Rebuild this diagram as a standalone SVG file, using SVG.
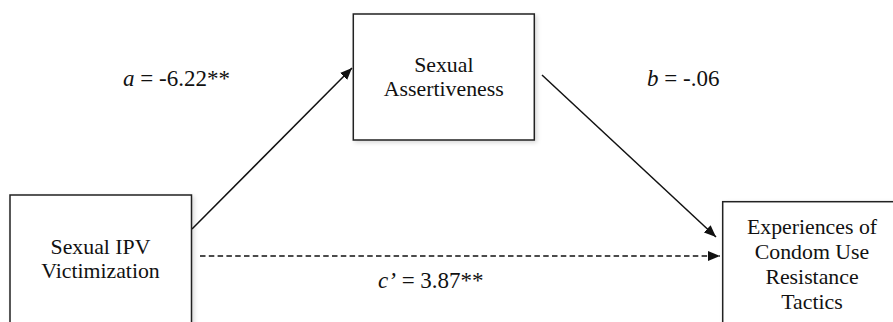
<svg xmlns="http://www.w3.org/2000/svg" width="893" height="322" viewBox="0 0 893 322">
  <style>
    .box { fill: #ffffff; stroke: #222222; stroke-width: 1.5; }
    .t { font-family: "Liberation Serif", "Times New Roman", serif; font-size: 21.8px; fill: #111111; text-anchor: middle; }
    .lbl { font-family: "Liberation Serif", "Times New Roman", serif; font-size: 23px; fill: #111111; }
    .it { font-style: italic; }
    .conn { stroke: #111111; stroke-width: 1.5; fill: none; }
    .dash { stroke-dasharray: 5.5 3.3; }
  </style>
  <defs>
    <marker id="arrow" viewBox="0 0 12 10" refX="12" refY="5" markerWidth="12" markerHeight="10" markerUnits="userSpaceOnUse" orient="auto">
      <path d="M0,0 L12,5 L0,10 Z" fill="#111111"/>
    </marker>
    <filter id="shadow" x="-10%" y="-10%" width="130%" height="130%">
      <feDropShadow dx="2" dy="2" stdDeviation="2" flood-color="#000000" flood-opacity="0.15"/>
    </filter>
  </defs>
  <rect width="893" height="322" fill="#ffffff"/>

  <g id="connectors">
    <line class="conn" x1="192" y1="229" x2="352" y2="68" marker-end="url(#arrow)"/>
    <line class="conn" x1="542" y1="75" x2="716" y2="237" marker-end="url(#arrow)"/>
    <line class="conn dash" x1="200" y1="256" x2="720" y2="256" marker-end="url(#arrow)"/>
  </g>

  <g id="node-ipv">
    <rect class="box" x="10" y="195" width="181.5" height="135" filter="url(#shadow)"/>
    <text class="t" x="100.5" y="254">Sexual IPV</text>
    <text class="t" x="100.5" y="278">Victimization</text>
  </g>

  <g id="node-assert">
    <rect class="box" x="353.3" y="14" width="181" height="126" filter="url(#shadow)"/>
    <text class="t" x="443.8" y="72">Sexual</text>
    <text class="t" x="443.8" y="96">Assertiveness</text>
  </g>

  <g id="node-outcome">
    <rect class="box" x="722.7" y="201.7" width="185" height="130" filter="url(#shadow)"/>
    <text class="t" x="812" y="234">Experiences of</text>
    <text class="t" x="812" y="259">Condom Use</text>
    <text class="t" x="812" y="284">Resistance</text>
    <text class="t" x="812" y="309">Tactics</text>
  </g>

  <g id="labels">
    <text class="lbl" x="123" y="86"><tspan class="it">a</tspan> = -6.22**</text>
    <text class="lbl" x="647" y="86"><tspan class="it">b</tspan> = -.06</text>
    <text class="lbl" x="378" y="288"><tspan class="it">c’</tspan> = 3.87**</text>
  </g>
</svg>
